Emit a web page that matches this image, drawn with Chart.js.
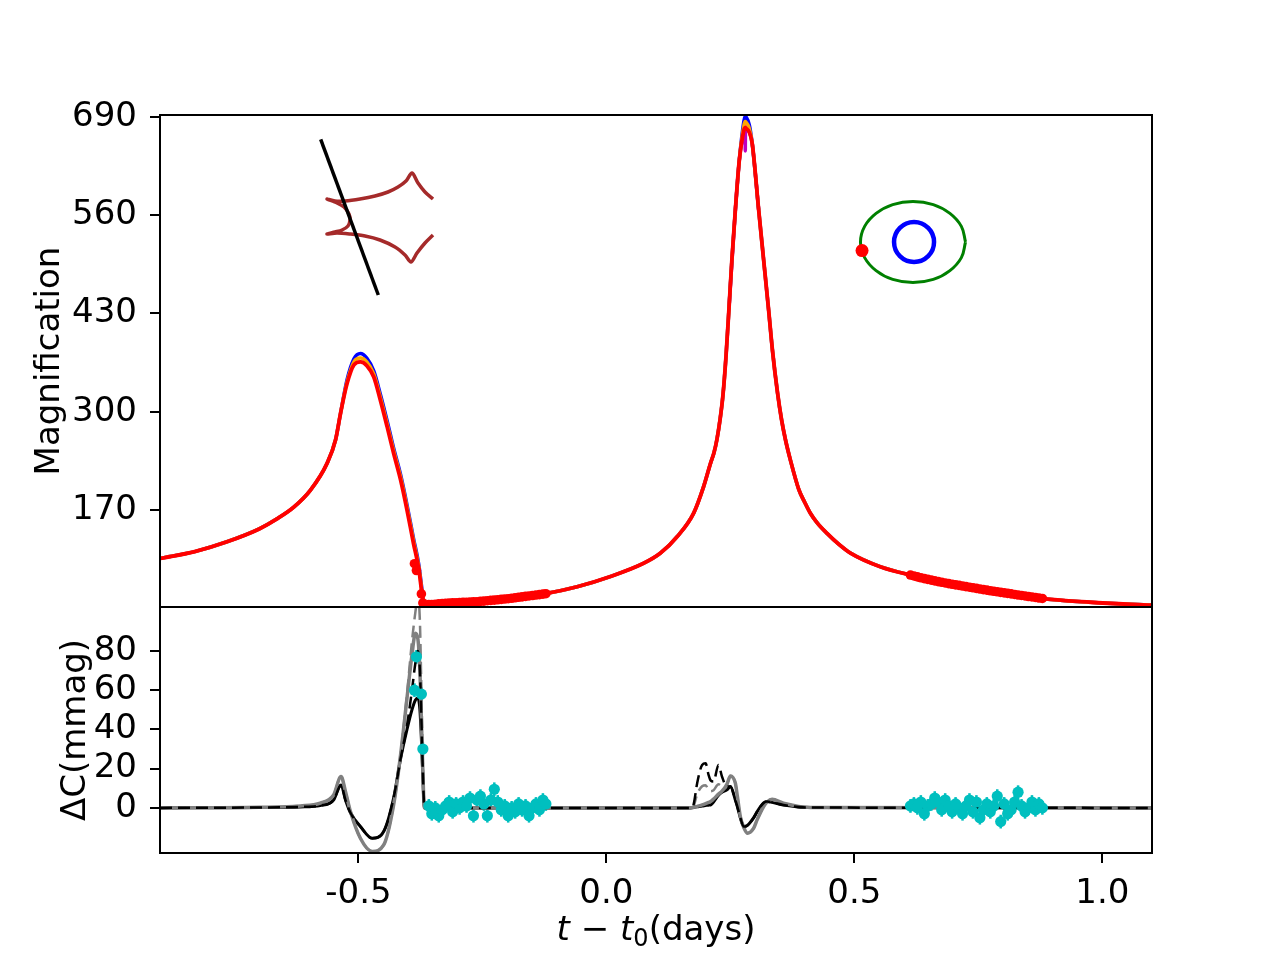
<!DOCTYPE html>
<html>
<head>
<meta charset="utf-8">
<script src="https://cdn.jsdelivr.net/npm/chart.js@4.4.0/dist/chart.umd.min.js"></script>
<style>
  body { margin: 0; background: #fff; }
  #wrap { position: relative; width: 1280px; height: 960px; }
  canvas { position: absolute; }
</style>
</head>
<body>
<div id="wrap">
  <canvas id="lower" width="1280" height="960" style="left:0;top:0"></canvas>
  <canvas id="upper" width="1280" height="960" style="left:0;top:0"></canvas>
  <canvas id="caustic" width="140" height="180" style="left:300px;top:125px"></canvas>
  <canvas id="orbit" width="130" height="104" style="left:848px;top:190px"></canvas>
</div>
<script>
// ---- data ----
const xTicks = [-0.5, 0.0, 0.5, 1.0];
const magTicks = [170, 300, 430, 560, 690];
const resTicks = [0, 20, 40, 60, 80];

// model light curves (upper panel)
const modelT = [-0.90,-0.83,-0.765,-0.70,-0.665,-0.63,-0.597,-0.563,-0.546,-0.536,-0.523,-0.509,-0.496,-0.483,-0.469,-0.456,-0.442,-0.429,-0.415,-0.402,-0.389,-0.378,-0.372,-0.368,-0.36,-0.328,-0.261,-0.194,-0.126,-0.059,0.008,0.075,0.109,0.143,0.176,0.196,0.210,0.217,0.223,0.229,0.235,0.241,0.247,0.253,0.260,0.268,0.277,0.2795,0.2815,0.288,0.294,0.307,0.317,0.327,0.335,0.345,0.353,0.361,0.371,0.388,0.400,0.411,0.425,0.445,0.468,0.492,0.552,0.613,0.707,0.808,0.875,0.976,1.10];
const magRed = [106,115,128,145,158,174,196,232,263,298,337,362,366,361,346,316,280,245,210,170,126,91,60,45,45,46.5,48.7,53,59,68.5,82,99.5,113,135,166,201,232,246,264,289,322,372,435,501,567,633,672,676,675,670,655,567,501,435,380,325,290,263,236,197,180,166,153,139,125,113,95,84,71,60,53,48,44];
const magBlue = [106,115,128,145,158,174,196,232,263,298,342,370,377,371,354,324,288,252,217,177,133,97,66,48,45,46.5,48.7,53,59,68.5,82,99.5,113,135,166,201,232,246,264,289,322,372,435,501,567,633,684,691,690,680,655,567,501,435,380,325,290,263,236,197,180,166,153,139,125,113,95,84,71,60,53,48,44];
const magOrange = [106,115,128,145,158,174,196,232,263,298,339,366,371,366,350,320,284,249,214,174,130,94,63,46,45,46.5,48.7,53,59,68.5,82,99.5,113,135,166,201,232,246,264,289,322,372,435,501,567,633,678,684,683,675,655,567,501,435,380,325,290,263,236,197,180,166,153,139,125,113,95,84,71,60,53,48,44];
const magentaT = [0.247,0.260,0.268,0.277,0.2795,0.2800,0.2805,0.2815,0.288,0.294,0.307];
const magentaV = [435,567,633,672,681,645,681,676,670,655,567];

// observations
const obsT = [-0.387,-0.383,-0.373,-0.370,
  -0.358,-0.352,-0.345,-0.338,-0.331,-0.324,-0.317,-0.310,-0.303,-0.296,-0.289,-0.282,-0.275,-0.268,-0.261,-0.254,-0.247,-0.240,-0.233,-0.226,-0.219,-0.212,-0.205,-0.198,-0.191,-0.184,-0.177,-0.170,-0.163,-0.156,-0.149,-0.142,-0.135,-0.128,-0.122,
  0.613,0.620,0.627,0.634,0.641,0.648,0.655,0.662,0.669,0.676,0.683,0.690,0.697,0.704,0.711,0.718,0.725,0.732,0.739,0.746,0.753,0.760,0.767,0.774,0.781,0.788,0.795,0.802,0.809,0.816,0.823,0.830,0.837,0.844,0.851,0.858,0.865,0.872,0.879];
const obsMag = [99,90,59,47,
  44.8,45.1,45.4,45.8,46.2,46.6,46.9,47.2,47.4,47.6,47.8,48.0,48.2,48.5,48.7,49.1,49.5,50.0,50.4,50.8,51.3,51.8,52.3,52.7,53.3,53.9,54.5,55.1,55.7,56.3,56.9,57.5,58.1,58.7,59.3,
  84.0,82.8,81.6,80.4,79.3,78.3,77.3,76.3,75.3,74.4,73.5,72.6,71.8,71.0,70.3,69.5,68.7,67.9,67.1,66.3,65.5,64.7,64.0,63.2,62.5,61.8,61.1,60.4,59.7,59.0,58.3,57.6,57.0,56.3,55.6,55.0,54.3,53.6,53.0];
const obsRes = [60,77,58,30,
  1,-3,0,-4,-1,1,3,-2,2,0,3,1,5,-4,4,6,2,-4,4,9.5,3,-1,1,-4,0,-2,2,-1,1,-4,0,2,-1,4,2,
  1,2,0,3,-3,1,2,5,3,-1,4,1,-2,2,0,-3,1,4,-2,3,-5,-1,2,-2,1,6,-7,2,-3,-1,3,8,1,-2,0,3,-1,2,0];
const obsErr = 3.5;

// residual models (lower panel)
const resT = [-0.90,-0.70,-0.617,-0.577,-0.550,-0.535,-0.526,-0.516,-0.496,-0.472,-0.449,-0.429,-0.415,-0.402,-0.392,-0.385,-0.380,-0.376,-0.373,-0.370,-0.367,0.170,0.176,0.183,0.193,0.200,0.206,0.210,0.216,0.226,0.233,0.243,0.250,0.260,0.264,0.270,0.277,0.284,0.297,0.304,0.317,0.324,0.334,0.357,0.411,1.10];
const resGray = [0,0.3,1,2.4,6.6,16,8.3,-1.9,-15.5,-22.2,-18.9,1.5,27,56,78,89,86,70,45,18.5,0,0,0.3,0.8,1.5,2.2,2.8,3.2,4.5,7,8.5,12,16.3,12.6,6,-4.4,-10,-12.9,-10.3,-6,0.7,3,4.4,2.4,0.2,0];
const resGrayDash = [0,0.3,1,2.4,6.6,16,8.3,-1.9,-15.5,-22.2,-18.9,1.5,27,58,85,100,108,95,60,22,0,0,1,7,11,11.5,9,8.5,9,12,11,12,16.3,12.6,6,-4.4,-10,-12.9,-10.3,-6,0.7,3,4.4,2.4,0.2,0];
const resBlack = [0,0.2,0.5,1.2,4,11.7,4,-2.5,-9.5,-15.5,-12,5,25,40,50,55,56,50,35,15,0,0,0.2,0.5,1,1.2,1.4,1.5,3,6.5,8,9.2,10.9,4,0.7,-5,-9.5,-9,-5,-1.9,2.5,3.2,2.8,1.5,0.2,0];
const resBlackDash = [0,0.2,0.5,1.2,4,11.7,4,-2.5,-9.5,-15.5,-12,5,25,42,60,74,80,70,45,18,0,0,2,12.6,21.9,22.7,16.8,14,13.4,21.9,16,10.9,10.9,4,0.7,-5,-9.5,-9,-5,-1.9,2.5,3.2,2.8,1.5,0.2,0];

// caustic inset (source plane units)
const causticU = [0.63,0.55,0.48,0.42,0.36,0.28,0.18,0.05,-0.10,-0.25,-0.35,-0.43,-0.33,-0.26,-0.21,-0.20,-0.22,-0.28,-0.35,-0.43,-0.33,-0.20,-0.05,0.10,0.25,0.35,0.41,0.47,0.55,0.63];
const causticV = [0.16,0.23,0.32,0.42,0.34,0.28,0.23,0.19,0.16,0.14,0.14,0.16,0.12,0.08,0.01,-0.05,-0.11,-0.15,-0.17,-0.19,-0.18,-0.19,-0.21,-0.25,-0.32,-0.40,-0.47,-0.38,-0.28,-0.20];
const trackU = [-0.493, 0.083];
const trackV = [0.757, -0.80];

// orbit inset
const orbitU = [1.01,0.93,0.71,0.39,0,-0.39,-0.71,-0.93,-1.01,-0.93,-0.71,-0.39,0,0.39,0.71,0.93,1.01];
const orbitV = [0,0.30,0.55,0.72,0.78,0.72,0.55,0.30,0,-0.30,-0.55,-0.72,-0.78,-0.72,-0.55,-0.30,0];
const hostPos = [0.02, 0];
const planetPos = [-0.98, -0.165];

// ---- helpers ----
const pts = (xs, ys) => xs.map((x, i) => ({x: x, y: ys[i]}));
const FONT = "'DejaVu Sans', sans-serif";
const FS = 34;
Chart.defaults.font.family = FONT;
Chart.defaults.color = '#000';

const frame = {
  id: 'frame',
  afterDatasetsDraw(chart) {
    const {ctx, chartArea: a} = chart;
    ctx.save();
    ctx.strokeStyle = '#000';
    ctx.lineWidth = 2;
    ctx.strokeRect(a.left, a.top, a.right - a.left, a.bottom - a.top);
    ctx.restore();
  }
};

const errBars = {
  id: 'errBars',
  beforeDatasetsDraw(chart) {
    const {ctx, scales: {x, y}, chartArea: a} = chart;
    ctx.save();
    ctx.beginPath();
    ctx.rect(a.left, a.top, a.right - a.left, a.bottom - a.top);
    ctx.clip();
    ctx.strokeStyle = '#00bfbf';
    ctx.lineWidth = 2.5;
    obsT.forEach((t, i) => {
      const px = x.getPixelForValue(t);
      ctx.beginPath();
      ctx.moveTo(px, y.getPixelForValue(obsRes[i] - obsErr));
      ctx.lineTo(px, y.getPixelForValue(obsRes[i] + obsErr));
      ctx.stroke();
    });
    ctx.restore();
  }
};

const xLabel = {
  id: 'xLabel',
  afterDraw(chart) {
    const ctx = chart.ctx;
    const parts = [
      ['t', 'italic ' + FS + 'px ' + FONT, 0],
      [' \u2212 ', FS + 'px ' + FONT, 0],
      ['t', 'italic ' + FS + 'px ' + FONT, 0],
      ['0', '24px ' + FONT, 6],
      ['(days)', FS + 'px ' + FONT, 0]
    ];
    ctx.save();
    let total = 0;
    parts.forEach(p => { ctx.font = p[1]; total += ctx.measureText(p[0]).width; });
    const a = chart.chartArea;
    let cx = (a.left + a.right) / 2 - total / 2;
    ctx.fillStyle = '#000';
    ctx.textBaseline = 'alphabetic';
    parts.forEach(p => {
      ctx.font = p[1];
      ctx.fillText(p[0], cx, 940 + p[2]);
      cx += ctx.measureText(p[0]).width;
    });
    ctx.restore();
  }
};

function yAxis(min, max, ticks, title, titlePad) {
  return {
    type: 'linear', min: min, max: max,
    afterBuildTicks: s => { s.ticks = ticks.map(v => ({value: v})); },
    afterFit: s => { s.width = 160; },
    grid: {drawOnChartArea: false, drawTicks: true, tickLength: 10, color: '#000', lineWidth: 2},
    border: {display: false},
    ticks: {padding: 13, color: '#000', font: {size: FS}, callback: v => String(v)},
    title: {display: true, text: title, color: '#000', font: {size: FS}, padding: {top: titlePad, bottom: 0}}
  };
}

const line = (label, data, color, width, extra) => Object.assign({
  label: label, data: data, borderColor: color, borderWidth: width,
  pointRadius: 0, fill: false, cubicInterpolationMode: 'monotone'
}, extra || {});

// ---- upper panel: magnification ----
new Chart(document.getElementById('upper'), {
  type: 'line',
  data: {
    datasets: [
      {label: 'data', data: pts(obsT, obsMag), showLine: false, pointRadius: 4.8,
       pointBackgroundColor: '#ff0000', pointBorderWidth: 0},
      line('model 1', pts(modelT, magRed), '#ff0000', 3.8),
      line('model 2', pts(modelT, magOrange), '#ffa500', 3.5),
      line('model 3', pts(modelT, magBlue), '#0000ff', 3.5),
      line('model 4', pts(magentaT, magentaV), '#bf00bf', 3.5)
    ]
  },
  options: {
    responsive: false, animation: false, devicePixelRatio: 1,
    layout: {padding: {top: 115, right: 128, bottom: 353, left: 0}, autoPadding: false},
    plugins: {legend: {display: false}, tooltip: {enabled: false}},
    scales: {
      x: {type: 'linear', min: -0.9, max: 1.1, display: false},
      y: yAxis(41.7, 692.6, magTicks, 'Magnification', 30)
    }
  },
  plugins: [frame]
});

// ---- lower panel: residuals ----
new Chart(document.getElementById('lower'), {
  type: 'line',
  data: {
    datasets: [
      {label: 'residuals', data: pts(obsT, obsRes), showLine: false, pointRadius: 5.6,
       pointBackgroundColor: '#00bfbf', pointBorderWidth: 0},
      line('black dashed', pts(resT, resBlackDash), '#000000', 2.5, {borderDash: [12, 6]}),
      line('gray', pts(resT, resGray), '#808080', 3.5),
      line('gray dashed', pts(resT, resGrayDash), '#808080', 2.5, {borderDash: [12, 6]}),
      line('black', pts(resT, resBlack), '#000000', 3)
    ]
  },
  options: {
    responsive: false, animation: false, devicePixelRatio: 1,
    layout: {padding: {top: 607, right: 128, bottom: 0, left: 0}, autoPadding: false},
    plugins: {legend: {display: false}, tooltip: {enabled: false}},
    scales: {
      x: {
        type: 'linear', min: -0.9, max: 1.1,
        afterBuildTicks: s => { s.ticks = xTicks.map(v => ({value: v})); },
        afterFit: s => { s.height = 107; },
        grid: {drawOnChartArea: false, drawTicks: true, tickLength: 10, color: '#000', lineWidth: 2},
        border: {display: false},
        ticks: {padding: 11, color: '#000', font: {size: FS}, maxRotation: 0, callback: v => v.toFixed(1)}
      },
      y: yAxis(-23, 102.4, resTicks, '\u0394C(mmag)', 56)
    }
  },
  plugins: [frame, errBars, xLabel]
});

// ---- inset: caustic and source trajectory ----
const hidden = (min, max) => ({type: 'linear', min: min, max: max, display: false});
new Chart(document.getElementById('caustic'), {
  type: 'line',
  data: {
    datasets: [
      line('trajectory', pts(trackU, trackV), '#000000', 3.5, {cubicInterpolationMode: 'default', clip: false}),
      line('caustic', pts(causticU, causticV), '#a52a2a', 3.5, {cubicInterpolationMode: 'default', tension: 0.3, clip: false})
    ]
  },
  options: {
    responsive: false, animation: false, devicePixelRatio: 1,
    layout: {padding: 0, autoPadding: false},
    plugins: {legend: {display: false}, tooltip: {enabled: false}},
    scales: {x: hidden(-0.7, 0.7), y: hidden(-0.9, 0.9)}
  }
});

// ---- inset: orbit ----
new Chart(document.getElementById('orbit'), {
  type: 'line',
  data: {
    datasets: [
      {label: 'planet', data: [{x: planetPos[0], y: planetPos[1]}], showLine: false,
       pointRadius: 6.5, pointBackgroundColor: '#ff0000', pointBorderWidth: 0, clip: false},
      {label: 'host', data: [{x: hostPos[0], y: hostPos[1]}], showLine: false,
       pointRadius: 20, pointBackgroundColor: 'rgba(0,0,0,0)', pointBorderColor: '#0000ff',
       pointBorderWidth: 4.5, clip: false},
      line('orbit', pts(orbitU, orbitV), '#008000', 3, {cubicInterpolationMode: 'default', tension: 0.4, clip: false})
    ]
  },
  options: {
    responsive: false, animation: false, devicePixelRatio: 1,
    layout: {padding: 0, autoPadding: false},
    plugins: {legend: {display: false}, tooltip: {enabled: false}},
    scales: {x: hidden(-1.25, 1.25), y: hidden(-1, 1)}
  }
});
</script>
</body>
</html>
